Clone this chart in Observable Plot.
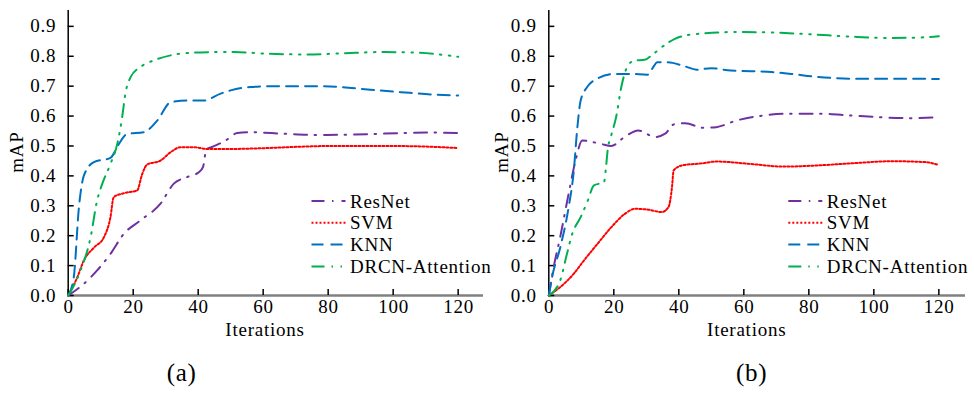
<!DOCTYPE html>
<html><head><meta charset="utf-8">
<script src="https://cdn.jsdelivr.net/npm/d3@7"></script>
<script src="https://cdn.jsdelivr.net/npm/@observablehq/plot@0.6"></script>
<style>
body{margin:0;background:#fff;}
#wrap{position:relative;width:974px;height:393px;overflow:hidden;background:#fff;}
.panel{position:absolute;top:0;}
svg{overflow:visible;}
#wrap svg text{letter-spacing:0.75px;}
</style></head><body>
<div id="wrap"><div class="panel" id="pa" style="left:0"></div><div class="panel" id="pb" style="left:490px"></div></div>
<script>
const seriesNames = ["ResNet", "SVM", "KNN", "DRCN-Attention"];
const seriesColors = ["#7030A0", "#FF0000", "#0070C0", "#00B050"];
const seriesDash = ["13,7.5,1.5,8", "2,2", "12,7", "13,7,1.5,7.5,1.5,7"];
const yTicks = [0, 0.1, 0.2, 0.3, 0.4, 0.5, 0.6, 0.7, 0.8, 0.9];
const xTicks = [0, 20, 40, 60, 80, 100, 120];
const panelLabels = ["(a)", "(b)"];
const xLabel = "Iterations";
const yLabel = "mAP";

// Panel (a): [iteration, mAP]
const a_ResNet = [[0,0],[4.8,0.039],[8.9,0.084],[13,0.139],[17.1,0.206],[22.2,0.251],[28.4,0.307],[32.5,0.374],[36.6,0.396],[40.2,0.412],[41.5,0.43],[42.5,0.488],[44.5,0.498],[48,0.515],[52,0.543],[56,0.546],[66.3,0.541],[76.4,0.537],[86.9,0.538],[102.3,0.543],[112.4,0.545],[120,0.543]];
const a_SVM = [[0,0],[2.8,0.061],[4.8,0.117],[7.9,0.16],[11,0.195],[13,0.262],[14,0.329],[17.1,0.342],[21.2,0.351],[22.8,0.407],[24.3,0.438],[28.4,0.451],[31.5,0.479],[34.6,0.496],[38.6,0.496],[42.8,0.49],[50,0.49],[61,0.493],[70,0.497],[81.7,0.5],[98,0.5],[110,0.498],[120,0.493]];
const a_KNN = [[0,0],[1.7,0.06],[3.3,0.295],[4.8,0.4],[7.9,0.446],[13,0.46],[15.6,0.507],[18.1,0.54],[23.3,0.546],[27.4,0.585],[31.5,0.646],[36.6,0.652],[41.7,0.652],[46.9,0.675],[50,0.686],[56,0.697],[65,0.7],[74.5,0.7],[83.8,0.697],[93,0.688],[102.3,0.68],[112.4,0.672],[120,0.669]];
const a_DRCN = [[0,0],[3.8,0.084],[6.9,0.195],[8.9,0.318],[10.5,0.374],[13,0.44],[15.1,0.507],[16.6,0.596],[17.6,0.675],[19.2,0.73],[22.2,0.764],[26.3,0.786],[31.5,0.803],[38.6,0.812],[45.8,0.814],[51,0.814],[62.2,0.808],[73.5,0.806],[84.8,0.81],[96,0.814],[107.4,0.812],[120,0.798]];

// Panel (b): [iteration, mAP]
const b_ResNet = [[0,0],[1.5,0.095],[3.5,0.195],[6.1,0.34],[8.2,0.45],[10.3,0.518],[16,0.507],[19.2,0.5],[23.3,0.53],[27.5,0.552],[32.7,0.53],[35.8,0.541],[38.4,0.572],[42,0.576],[47.4,0.561],[51.5,0.563],[57.7,0.585],[66,0.602],[74.3,0.608],[83.6,0.608],[92.9,0.602],[102.3,0.596],[110.5,0.593],[120,0.596]];
const b_SVM = [[0,0],[3.5,0.028],[7.7,0.073],[10.8,0.117],[15,0.173],[19.2,0.228],[23.4,0.273],[26.5,0.29],[30.6,0.287],[34.7,0.279],[36.8,0.295],[37.9,0.362],[38.4,0.418],[41,0.435],[47.2,0.442],[51.5,0.448],[61.9,0.44],[72.3,0.431],[82.8,0.435],[93.1,0.442],[105.5,0.449],[115.9,0.446],[120,0.436]];
const b_KNN = [[0,0],[1,0.061],[3.5,0.16],[6.1,0.295],[7.7,0.418],[8.7,0.552],[9.8,0.652],[11.8,0.697],[14.9,0.725],[20,0.741],[25.2,0.741],[30.3,0.738],[31.8,0.758],[33.4,0.78],[36.5,0.78],[41.7,0.767],[45.5,0.755],[49.9,0.76],[56,0.752],[62.3,0.75],[68.5,0.747],[74.6,0.741],[81.8,0.732],[88,0.727],[94,0.725],[107.4,0.725],[120,0.724]];
const b_DRCN = [[0,0],[3.5,0.05],[5.6,0.14],[7.2,0.206],[9.8,0.262],[11.8,0.312],[13.9,0.368],[17,0.379],[17.6,0.429],[18.1,0.485],[19.2,0.535],[20.7,0.596],[22.3,0.697],[24.4,0.77],[26.4,0.786],[29.5,0.788],[31.6,0.803],[34.7,0.83],[38.8,0.858],[44,0.873],[57.3,0.881],[69.6,0.879],[81,0.873],[92.3,0.866],[104.6,0.861],[116.9,0.864],[120,0.867]];

const FONT = "Liberation Serif";
const FS = 19;

function makePanel(el, seriesData, cfg) {
  const marks = [];
  marks.push(Plot.ruleX([0], {stroke: "#000", strokeWidth: 1.5}));
  marks.push(Plot.ruleY([0], {stroke: "#808080", strokeWidth: 2.5}));
  // inward ticks
  marks.push(Plot.axisY({ticks: yTicks, tickSize: 6, dx: 6, tickFormat: () => "", stroke: "#000", strokeWidth: 1.5}));
  marks.push(Plot.axisX({ticks: xTicks, tickSize: 6, dy: -6, tickFormat: () => "", stroke: "#000", strokeWidth: 1.5}));
  // labels
  marks.push(Plot.axisY({ticks: yTicks, tickSize: 0, tickPadding: 12, tickFormat: d3.format(".1f"), fill: "#000", label: null}));
  marks.push(Plot.axisX({ticks: xTicks, tickSize: 0, tickPadding: 4, dx: 0.4, tickFormat: d3.format("d"), fill: "#000", label: null}));
  seriesData.forEach((data, i) => {
    marks.push(Plot.line(data, {
      x: d => d[0], y: d => d[1], curve: "monotone-x",
      stroke: seriesColors[i], strokeWidth: 2, strokeDasharray: seriesDash[i]
    }));
  });
  const chart = Plot.plot({
    width: cfg.width, height: 393,
    marginLeft: cfg.ml, marginRight: cfg.mr, marginTop: 10, marginBottom: 98,
    x: {domain: [0, cfg.xmax]},
    y: {domain: [0, 0.953]},
    style: {fontSize: FS + "px", color: "#000", background: "transparent", overflow: "visible"},
    marks
  });
  const svg = d3.select(chart);
  svg.attr("font-family", FONT).attr("font-size", FS).style("font-family", FONT);
  // legend
  const lg = svg.append("g").attr("text-anchor", "start");
  seriesNames.forEach((name, i) => {
    const y = 201 + i * 21.8;
    lg.append("line").attr("x1", cfg.lgX).attr("x2", cfg.lgX + 34).attr("y1", y).attr("y2", y)
      .attr("stroke", seriesColors[i]).attr("stroke-width", 2).attr("stroke-dasharray", seriesDash[i]);
    lg.append("text").attr("x", cfg.lgX + 38.5).attr("y", y).attr("dy", "0.35em").attr("text-anchor", "start")
      .attr("font-size", FS).attr("fill", "#000").text(name);
  });
  svg.append("text").attr("transform", `translate(${cfg.yLabX},152) rotate(-90)`).attr("text-anchor", "middle")
    .attr("dy", "0.35em").attr("font-size", FS).attr("fill", "#000").text(yLabel);
  svg.append("text").attr("x", cfg.xLabX).attr("y", 335.5).attr("text-anchor", "middle")
    .attr("font-size", FS).attr("fill", "#000").text(xLabel);
  svg.append("text").attr("x", cfg.capX).attr("y", 381).attr("text-anchor", "middle")
    .attr("font-size", 25).attr("fill", "#000").text(cfg.caption);
  svg.selectAll("text").attr("font-family", FONT).style("font-family", FONT);
  el.appendChild(chart);
}

makePanel(document.getElementById("pa"), [a_ResNet, a_SVM, a_KNN, a_DRCN],
  {width: 490, ml: 67.7, mr: 7, xmax: 127.8, lgX: 311.5, yLabX: 16, xLabX: 265, capX: 181.7, caption: panelLabels[0]});
makePanel(document.getElementById("pb"), [b_ResNet, b_SVM, b_KNN, b_DRCN],
  {width: 484, ml: 58.3, mr: 9, xmax: 128.2, lgX: 298.3, yLabX: 11, xLabX: 256.7, capX: 261.7, caption: panelLabels[1]});
</script>
</body></html>
